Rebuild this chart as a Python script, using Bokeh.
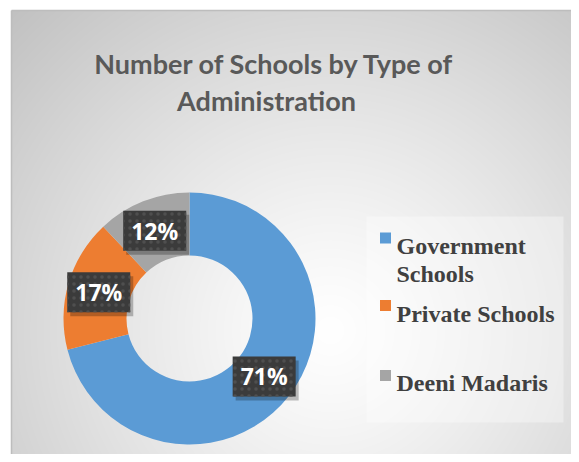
import numpy as np
from bokeh.plotting import figure
from bokeh.models import Range1d, ColumnDataSource
from bokeh.core.properties import value
from bokeh.embed import file_html
from bokeh.resources import INLINE

# ---- data ----
categories = ["Government Schools", "Private Schools", "Deeni Madaris"]
shares = [71, 17, 12]
colors = ["#5B9BD5", "#ED7D31", "#A5A5A5"]
title_lines = ["Number of Schools by Type of", "Administration"]
legend_lines = [["Government", "Schools"], ["Private Schools"], ["Deeni Madaris"]]

W, H = 571, 454
p = figure(width=W, height=H, output_backend="svg", toolbar_location=None,
           x_range=Range1d(0, W), y_range=Range1d(0, H), min_border=0)
p.axis.visible = False
p.grid.visible = False
p.outline_line_color = None
p.background_fill_color = "white"
p.border_fill_color = "white"

# y offset so that positions are measured from the top of the figure
Y0 = H  # data y = Y0 - (pixels from top)

# ---- radial gradient chart-area background (style only) ----
bx0, by0, bw, bh = 11, 0, W - 11, H - 10
xs = np.arange(bw) + bx0 + 0.5
ys = Y0 - (np.arange(bh) + by0 + 0.5)
PX, PY = np.meshgrid(xs, ys)
d = np.sqrt((PX - 330) ** 2 + (PY - 330) ** 2) / 330.0
t = np.clip(d / 1.37, 0, 1) ** 1.2
g = (255 - 62 * t).astype(np.uint32)
img = (255 << 24) | (g << 16) | (g << 8) | g
p.image_rgba(image=[img.astype(np.uint32)], x=bx0, y=by0, dw=bw, dh=bh)
# border of chart area (left and top)
p.segment(x0=[bx0, bx0], y0=[0, Y0 - 10], x1=[bx0, W], y1=[Y0 - 10, Y0 - 10],
          line_color="#bdbdbd", line_width=1.5)

# ---- title ----
p.text(x=[274], y=[Y0 - 63], text=[title_lines[0]], text_align="center",
       text_baseline="alphabetic", text_font=value("Lato"),
       text_font_style="bold", text_font_size="27px", text_color="#595959")
p.text(x=[266], y=[Y0 - 100], text=[title_lines[1]], text_align="center",
       text_baseline="alphabetic", text_font=value("Lato"),
       text_font_style="bold", text_font_size="27px", text_color="#595959")

# ---- donut ----
cx, cy, r_in, r_out = 189, Y0 - 318, 63, 126
vals = np.array(shares, dtype=float)
frac = vals / vals.sum()
cum = np.concatenate([[0], np.cumsum(frac)])
start = np.pi / 2 - 2 * np.pi * cum[:-1]
end = np.pi / 2 - 2 * np.pi * cum[1:]
src = ColumnDataSource(dict(start=start, end=end, color=colors))
p.annular_wedge(x=cx, y=cy, inner_radius=r_in, outer_radius=r_out,
                start_angle="start", end_angle="end", direction="clock",
                fill_color="color", line_color=None, source=src)

# ---- data labels ----
mid = (start + end) / 2
rm = (r_in + r_out) / 2
lx = cx + rm * np.cos(mid)
ly = cy + rm * np.sin(mid)
labels = [f"{v}%" for v in shares]
p.rect(x=lx + 3, y=ly - 4, width=63, height=40, width_units="screen",
       height_units="screen", fill_color="black", fill_alpha=0.25, line_color=None)
p.rect(x=lx, y=ly, width=63, height=40, width_units="screen",
       height_units="screen", fill_color="#3b3b3b", line_color=None,
       hatch_pattern="dot", hatch_color="#4f4f4f", hatch_scale=7, hatch_weight=1.5)
p.text(x=lx, y=ly, text=labels, text_align="center", text_baseline="middle",
       text_font=value("Open Sans"), text_font_style="bold",
       text_font_size="23px", text_color="white")

# ---- legend ----
p.quad(left=[366], right=[563], bottom=[Y0 - 422], top=[Y0 - 216], fill_color="white",
       fill_alpha=0.35, line_color=None)
sq_y = [Y0 - 237.5, Y0 - 305, Y0 - 375]
p.rect(x=[385] * 3, y=sq_y, width=11, height=11, width_units="screen",
       height_units="screen", fill_color=colors, line_color=None)
base_y = [[Y0 - 245, Y0 - 273], [Y0 - 313], [Y0 - 382]]
for lines, bys in zip(legend_lines, base_y):
    for ln, by in zip(lines, bys):
        p.text(x=[396], y=[by], text=[ln], text_align="left",
               text_baseline="alphabetic",
               text_font=value("Liberation Serif"), text_font_style="bold",
               text_font_size="24px", text_color="#404040")

open("out.html", "w").write(file_html(p, INLINE))
